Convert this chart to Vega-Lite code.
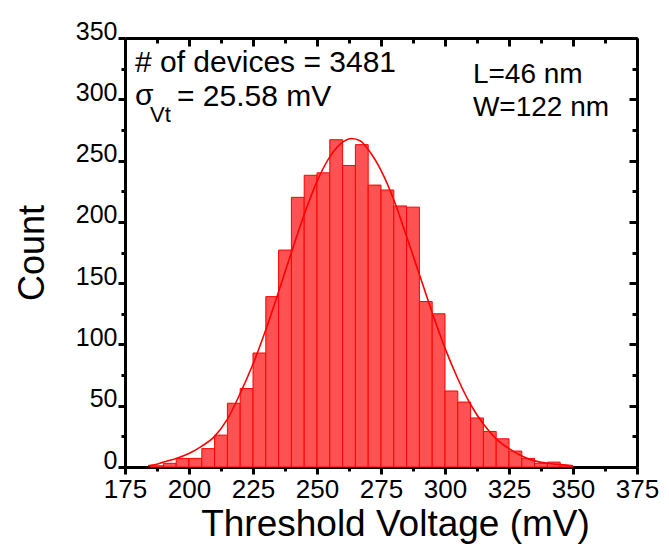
{
  "$schema": "https://vega.github.io/schema/vega-lite/v6.json",
  "width": 512,
  "height": 429,
  "autosize": {"type": "none"},
  "padding": {"left": 125, "top": 38, "right": 32, "bottom": 85},
  "background": "white",
  "config": {
    "view": {"stroke": null},
    "font": "Liberation Sans",
    "axis": {
      "domainColor": "black", "domainWidth": 3, "tickColor": "black", "tickWidth": 3,
      "labelColor": "black", "titleColor": "black", "labelFont": "Liberation Sans",
      "titleFont": "Liberation Sans", "titleFontWeight": "normal", "grid": false
    }
  },
  "resolve": {"axis": {"x": "independent", "y": "independent"}},
  "layer": [
    {
      "data": {"values": [
        {"lo": 185, "hi": 190, "count": 1}, {"lo": 190, "hi": 195, "count": 3},
        {"lo": 195, "hi": 200, "count": 7}, {"lo": 200, "hi": 205, "count": 7},
        {"lo": 205, "hi": 210, "count": 15}, {"lo": 210, "hi": 215, "count": 26},
        {"lo": 215, "hi": 220, "count": 52}, {"lo": 220, "hi": 225, "count": 64},
        {"lo": 225, "hi": 230, "count": 93}, {"lo": 230, "hi": 235, "count": 139},
        {"lo": 235, "hi": 240, "count": 177}, {"lo": 240, "hi": 245, "count": 220},
        {"lo": 245, "hi": 250, "count": 238}, {"lo": 250, "hi": 255, "count": 240},
        {"lo": 255, "hi": 260, "count": 267}, {"lo": 260, "hi": 265, "count": 246},
        {"lo": 265, "hi": 270, "count": 263}, {"lo": 270, "hi": 275, "count": 230},
        {"lo": 275, "hi": 280, "count": 226}, {"lo": 280, "hi": 285, "count": 213},
        {"lo": 285, "hi": 290, "count": 212}, {"lo": 290, "hi": 295, "count": 135},
        {"lo": 295, "hi": 300, "count": 125}, {"lo": 300, "hi": 305, "count": 62},
        {"lo": 305, "hi": 310, "count": 53}, {"lo": 310, "hi": 315, "count": 40},
        {"lo": 315, "hi": 320, "count": 29}, {"lo": 320, "hi": 325, "count": 23},
        {"lo": 325, "hi": 330, "count": 13}, {"lo": 330, "hi": 335, "count": 7},
        {"lo": 335, "hi": 340, "count": 3}, {"lo": 340, "hi": 345, "count": 4},
        {"lo": 345, "hi": 350, "count": 1}
      ]},
      "mark": {"type": "rect", "fill": "#ff5252", "stroke": "#ff0000", "strokeWidth": 1},
      "encoding": {
        "x": {
          "field": "lo", "type": "quantitative",
          "scale": {"domain": [175, 375], "nice": false, "zero": false},
          "axis": {
            "orient": "bottom",
            "values": [175, 187.5, 200, 212.5, 225, 237.5, 250, 262.5, 275, 287.5, 300, 312.5, 325, 337.5, 350, 362.5, 375],
            "labelExpr": "datum.value % 25 === 0 ? datum.label : ''",
            "tickSize": {"condition": {"test": "datum.value % 25 === 0", "value": 7}, "value": 4},
            "labelFontSize": 26, "labelPadding": 2, "labelFlush": false, "labelOverlap": false,
            "title": "Threshold Voltage (mV)", "titleFontSize": 37, "titlePadding": 4, "titleX": 270
          }
        },
        "x2": {"field": "hi"},
        "y": {
          "field": "count", "type": "quantitative",
          "scale": {"domain": [0, 350], "nice": false},
          "axis": {
            "orient": "left",
            "values": [0, 25, 50, 75, 100, 125, 150, 175, 200, 225, 250, 275, 300, 325, 350],
            "labelExpr": "datum.value % 50 === 0 ? datum.label : ''",
            "tickSize": {"condition": {"test": "datum.value % 50 === 0", "value": 7}, "value": 4},
            "labelFontSize": 25, "labelBaseline": "middle", "labelOffset": -7, "labelPadding": 1,
            "labelFlush": false, "labelOverlap": false,
            "title": "Count", "titleFontSize": 36, "titlePadding": 24
          }
        },
        "y2": {"datum": 0}
      }
    },
    {
      "data": {"values": [
        {"mv": 184, "fit": 1}, {"mv": 187, "fit": 2}, {"mv": 190, "fit": 4}, {"mv": 195, "fit": 7},
        {"mv": 200, "fit": 11}, {"mv": 205, "fit": 17}, {"mv": 210, "fit": 25}, {"mv": 215, "fit": 39},
        {"mv": 220, "fit": 60}, {"mv": 225, "fit": 84}, {"mv": 230, "fit": 112}, {"mv": 235, "fit": 143},
        {"mv": 240, "fit": 175}, {"mv": 245, "fit": 206}, {"mv": 250, "fit": 233}, {"mv": 255, "fit": 253},
        {"mv": 260, "fit": 265}, {"mv": 263.5, "fit": 268}, {"mv": 267, "fit": 266}, {"mv": 270, "fit": 259},
        {"mv": 275, "fit": 242}, {"mv": 280, "fit": 218}, {"mv": 285, "fit": 188}, {"mv": 290, "fit": 157},
        {"mv": 295, "fit": 126}, {"mv": 300, "fit": 97}, {"mv": 305, "fit": 72}, {"mv": 310, "fit": 51},
        {"mv": 315, "fit": 35}, {"mv": 320, "fit": 23}, {"mv": 325, "fit": 15}, {"mv": 330, "fit": 9},
        {"mv": 335, "fit": 5}, {"mv": 340, "fit": 3}, {"mv": 345, "fit": 2}, {"mv": 350, "fit": 1}
      ]},
      "mark": {"type": "line", "color": "#ff0000", "strokeWidth": 1.6, "interpolate": "monotone"},
      "encoding": {
        "x": {
          "field": "mv", "type": "quantitative",
          "scale": {"domain": [175, 375], "nice": false, "zero": false},
          "axis": {
            "orient": "top",
            "values": [175, 187.5, 200, 212.5, 225, 237.5, 250, 262.5, 275, 287.5, 300, 312.5, 325, 337.5, 350, 362.5, 375],
            "labels": false, "title": null, "ticks": true,
            "tickSize": {"condition": {"test": "datum.value % 25 === 0", "value": -8}, "value": -5}
          }
        },
        "y": {
          "field": "fit", "type": "quantitative",
          "scale": {"domain": [0, 350], "nice": false},
          "axis": {
            "orient": "right",
            "values": [0, 25, 50, 75, 100, 125, 150, 175, 200, 225, 250, 275, 300, 325, 350],
            "labels": false, "title": null, "ticks": true,
            "tickSize": {"condition": {"test": "datum.value % 50 === 0", "value": -8}, "value": -5}
          }
        }
      }
    },
    {
      "data": {"values": [
        {"mv": 178.9, "c": 322.5, "t": "# of devices = 3481"}
      ]},
      "mark": {"type": "text", "align": "left", "baseline": "alphabetic", "fontSize": 30, "font": "Liberation Sans", "color": "black"},
      "encoding": {
        "x": {"field": "mv", "type": "quantitative", "scale": {"domain": [175, 375], "nice": false, "zero": false}, "axis": null},
        "y": {"field": "c", "type": "quantitative", "scale": {"domain": [0, 350], "nice": false}, "axis": null},
        "text": {"field": "t"}
      }
    },
    {
      "data": {"values": [
        {"mv": 178.9, "c": 295.5, "t": "σ"},
        {"mv": 195.3, "c": 294.8, "t": "= 25.58 mV"}
      ]},
      "mark": {"type": "text", "align": "left", "baseline": "alphabetic", "fontSize": 30, "font": "Liberation Sans", "color": "black"},
      "encoding": {
        "x": {"field": "mv", "type": "quantitative", "scale": {"domain": [175, 375], "nice": false, "zero": false}, "axis": null},
        "y": {"field": "c", "type": "quantitative", "scale": {"domain": [0, 350], "nice": false}, "axis": null},
        "text": {"field": "t"}
      }
    },
    {
      "data": {"values": [{"mv": 184.8, "c": 281.7, "t": "Vt"}]},
      "mark": {"type": "text", "align": "left", "baseline": "alphabetic", "fontSize": 22, "font": "Liberation Sans", "color": "black"},
      "encoding": {
        "x": {"field": "mv", "type": "quantitative", "scale": {"domain": [175, 375], "nice": false, "zero": false}, "axis": null},
        "y": {"field": "c", "type": "quantitative", "scale": {"domain": [0, 350], "nice": false}, "axis": null},
        "text": {"field": "t"}
      }
    },
    {
      "data": {"values": [
        {"mv": 310.9, "c": 313.5, "t": "L=46 nm"},
        {"mv": 310.9, "c": 286.6, "t": "W=122 nm"}
      ]},
      "mark": {"type": "text", "align": "left", "baseline": "alphabetic", "fontSize": 28, "font": "Liberation Sans", "color": "black"},
      "encoding": {
        "x": {"field": "mv", "type": "quantitative", "scale": {"domain": [175, 375], "nice": false, "zero": false}, "axis": null},
        "y": {"field": "c", "type": "quantitative", "scale": {"domain": [0, 350], "nice": false}, "axis": null},
        "text": {"field": "t"}
      }
    }
  ]
}
